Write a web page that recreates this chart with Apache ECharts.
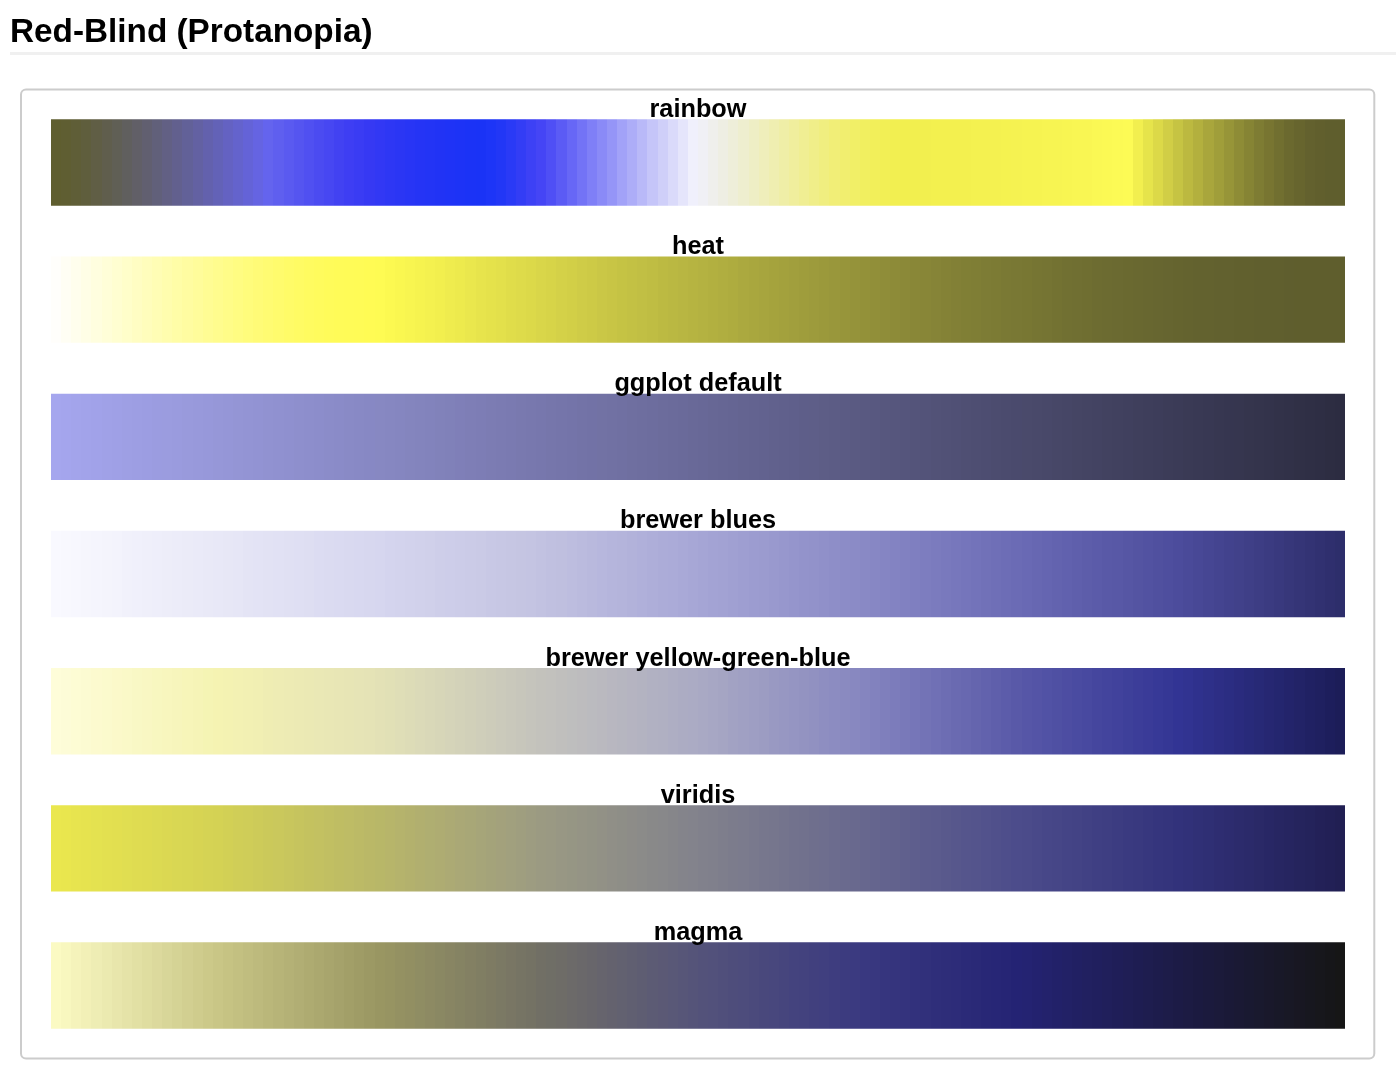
<!DOCTYPE html>
<html><head><meta charset="utf-8">
<script src="https://cdn.jsdelivr.net/npm/echarts@6/dist/echarts.min.js"></script>
<style>html,body{margin:0;padding:0;background:#fff}#c{width:1396px;height:1084px}</style>
</head><body><div id="c"></div>
<script>
const pageTitle = 'Red-Blind (Protanopia)';
const paletteNames = ['rainbow','heat','ggplot default','brewer blues','brewer yellow-green-blue','viridis','magma'];

const rainbowColors = ['5f5e2f','5f5e32','5f5e37','5f5e3d','605e45','605e4d','605f55','605f5e','615f67','615f70','61607a','626084','62608e','626198','6361a2','6361ad','6362b7','6462c2','6463cc','6463d7','6564e2','6464ee','5f5fef','5a5af0','5555f0','5050f1','4b4bf1','4747f2','4242f2','3e3ef3','3a3cf3','3639f3','3238f4','2e37f4','2b36f4','2835f5','2534f5','2334f5','2133f5','1f33f6','1d33f6','1b33f6','1a33f6','1d35f7','2237f6','2a3af6','333df5','3d41f5','4545f5','4f4ff5','5b5bf5','6767f6','7373f6','7f7ff7','8a8af7','9595f7','a2a2f8','adadf8','b9b9f8','c5c5f9','cfcff9','dadafa','e5e5fb','f0f0fc','f0f0f5','efefec','eeeee3','eeeed9','eeeecf','eeeec5','efeebb','efeeb1','efeea7','f0ee9d','f0ee93','f0ee89','f0ee80','f1ee77','f1ee6f','f1ef67','f1ef60','f2ef5a','f2ef55','f2ef51','f2ef4f','f2ef4f','f2ef4f','f3f04f','f3f04f','f3f04f','f3f04f','f4f150','f4f150','f4f150','f5f250','f5f251','f6f351','f6f351','f7f452','f7f452','f8f552','f9f653','f9f653','faf854','fbf954','fcfa55','fdfb55','f2ef4f','e6e44b','dcd948','d1ce46','c6c443','bcb940','b3b03e','a9a63c','a09e3a','979538','8e8c36','868434','7e7c33','787531','716f30','6b692f','67652e','63612e','615f2d','5f5e2d','5f5e2d'];

const heatColors = ['fffefb','fffef4','fffeed','fffee6','fffedf','fffed8','fffed1','fffeca','fffdc3','fffdbc','fffdb5','fffdae','fffda7','fffca1','fffc9b','fffc94','fffc8e','fffc88','fffc82','fffc7c','fffb77','fffb72','fffb6d','fffb68','fffb64','fffb60','fffb5d','fffb5a','fffb58','fffb57','fffb56','fffb54','fefb53','fcf951','faf750','f8f550','f6f34f','f4f14f','f2ef4e','efec4e','edea4d','eae74d','e7e44c','e5e24b','e3e04b','e0dd4a','dedb4a','dcd949','d9d649','d7d448','d4d148','d2cf47','cfcc47','cdca46','cac746','c8c545','c5c344','c3c144','c1bf44','bfbd43','bcba42','bab842','b8b642','b6b441','b4b241','b2b040','b0ae40','aeac3f','aba93f','a9a73e','a7a53e','a5a33d','a3a13d','a19f3d','9f9d3c','9d9b3c','9b993b','99973b','97953a','95933a','939139','918f39','8f8d39','8d8b38','8b8938','898737','888637','868437','848236','828036','807f35','7f7e35','7d7c35','7c7b34','7a7934','797834','787733','767533','757433','737232','717032','706f32','6f6e31','6d6c31','6c6b31','6b6a31','6a6930','696830','686730','676630','666530','65642f','64632f','63622f','63622f','62612f','62612f','61602e','61602e','605f2e','605f2e','605f2e','5f5e2e','5f5e2d','5f5e2d','5f5e2d','5f5e2d','5f5e2d'];

const ggplotColors = [[165,166,238],[164,165,237],[163,164,235],[162,163,234],[161,162,233],[160,161,231],[159,160,230],[158,159,228],[157,158,227],[156,157,226],[155,156,224],[155,156,223],[154,155,222],[153,154,220],[152,153,219],[151,152,218],[150,151,216],[149,150,215],[148,149,213],[147,148,212],[146,147,211],[145,146,209],[144,145,208],[143,144,207],[142,143,205],[141,142,204],[140,141,203],[139,140,201],[138,139,200],[137,138,198],[136,137,197],[135,136,196],[135,136,194],[134,135,193],[133,134,192],[132,133,190],[131,132,189],[130,131,188],[129,130,186],[128,129,185],[127,127,184],[126,126,182],[125,125,181],[124,124,179],[123,123,178],[122,122,177],[121,121,175],[120,120,174],[119,119,173],[118,118,171],[117,117,170],[116,116,169],[115,115,167],[114,114,166],[114,114,164],[113,113,163],[112,112,162],[111,111,160],[110,110,159],[109,109,158],[108,108,156],[107,107,155],[106,106,154],[105,105,152],[104,104,151],[103,103,149],[102,102,148],[101,101,147],[100,100,145],[99,99,144],[98,98,143],[97,97,141],[96,96,140],[95,95,139],[94,94,137],[94,94,136],[93,93,134],[92,92,133],[91,91,132],[90,90,130],[89,89,129],[88,88,128],[87,87,126],[86,86,125],[85,85,124],[84,84,122],[83,83,121],[82,82,119],[81,81,118],[80,80,117],[79,79,115],[78,78,114],[77,77,113],[76,76,111],[75,75,110],[74,74,109],[74,74,107],[73,73,106],[72,72,105],[71,71,103],[70,70,102],[69,69,100],[68,68,99],[67,67,98],[66,66,96],[65,65,95],[64,64,94],[63,63,92],[62,62,91],[61,61,90],[60,60,88],[59,59,87],[58,58,85],[57,57,84],[56,56,83],[55,55,81],[54,54,80],[54,54,79],[53,53,77],[52,52,76],[51,51,75],[50,50,73],[49,49,72],[48,48,70],[47,47,69],[46,46,68],[45,45,66],[44,44,65]];

const bluesColors = [[249,249,255],[248,248,254],[247,247,254],[246,246,253],[245,245,253],[244,244,252],[243,243,252],[241,241,251],[240,240,251],[239,239,250],[238,238,250],[237,237,249],[236,236,249],[235,235,248],[234,234,248],[233,233,247],[232,232,247],[231,231,246],[230,230,246],[228,228,245],[227,227,245],[226,226,244],[225,225,244],[224,224,243],[223,223,243],[222,222,242],[220,220,242],[219,219,241],[218,218,241],[217,217,240],[216,216,240],[215,215,239],[214,214,239],[212,212,238],[211,211,237],[210,210,236],[209,209,235],[208,208,234],[206,206,233],[205,205,233],[204,204,232],[203,203,231],[202,202,230],[200,200,229],[199,199,228],[198,198,227],[197,197,226],[196,196,226],[194,194,225],[192,192,224],[191,191,223],[189,189,223],[187,187,222],[185,185,221],[183,183,221],[181,181,220],[180,180,219],[178,178,218],[176,176,218],[174,174,217],[172,172,216],[171,171,216],[169,169,215],[167,167,214],[165,165,213],[163,163,212],[162,162,211],[160,160,210],[158,158,209],[156,156,208],[155,155,207],[153,153,206],[151,151,205],[149,149,204],[147,147,203],[146,146,202],[144,144,201],[142,142,200],[140,140,199],[139,139,198],[137,137,197],[135,135,196],[133,133,195],[131,131,194],[129,129,193],[127,127,192],[125,125,191],[123,123,190],[121,121,189],[119,119,188],[117,117,187],[115,115,186],[113,113,184],[111,111,183],[109,109,182],[107,107,181],[105,105,180],[103,103,178],[101,101,177],[99,99,175],[97,97,174],[95,95,172],[93,93,170],[91,91,169],[89,89,167],[88,88,166],[86,86,164],[84,84,162],[82,82,161],[80,80,159],[78,78,158],[76,76,156],[74,74,153],[72,72,150],[70,70,147],[68,68,144],[66,66,141],[65,65,138],[63,63,135],[61,61,132],[59,59,129],[57,57,126],[55,55,122],[53,53,119],[51,51,116],[49,49,113],[47,47,110],[45,46,107]];

const ylgnbuColors = [[254,253,217],[253,252,215],[253,252,212],[252,251,210],[252,250,207],[251,250,205],[251,249,202],[250,249,200],[249,248,197],[249,247,195],[248,247,192],[248,246,190],[247,245,188],[247,245,185],[246,244,183],[245,244,180],[245,243,178],[244,242,178],[243,241,179],[242,240,179],[241,239,179],[239,237,179],[238,236,180],[237,235,180],[236,234,180],[235,233,180],[234,232,181],[233,231,181],[232,230,181],[231,229,181],[230,228,182],[229,227,182],[227,225,182],[225,224,182],[223,222,183],[221,220,183],[219,218,184],[217,216,184],[215,214,184],[213,212,185],[211,210,185],[209,208,185],[207,206,186],[205,204,186],[203,202,187],[201,200,187],[199,198,187],[197,196,188],[195,194,188],[194,193,189],[192,191,189],[190,190,190],[189,188,190],[187,187,191],[186,185,191],[184,183,192],[182,182,192],[181,180,193],[179,179,193],[177,177,194],[176,176,194],[174,174,195],[172,172,195],[171,171,196],[169,169,196],[167,167,196],[165,165,195],[162,162,195],[160,160,195],[158,158,195],[156,156,194],[153,153,194],[151,151,194],[149,149,194],[147,147,193],[145,145,193],[142,142,193],[140,140,193],[138,138,192],[136,136,192],[133,133,191],[130,130,190],[127,127,188],[124,124,187],[121,121,185],[118,118,184],[115,115,182],[112,112,181],[109,109,179],[106,106,177],[104,104,176],[101,101,174],[98,98,173],[95,95,171],[92,92,170],[89,89,168],[86,86,167],[84,84,166],[81,82,165],[79,80,163],[77,77,162],[74,75,161],[72,73,160],[69,70,158],[67,68,157],[65,66,156],[62,64,154],[60,61,153],[58,59,152],[55,57,151],[53,55,149],[50,52,148],[49,51,145],[47,49,141],[46,48,137],[45,46,133],[43,45,130],[42,43,126],[40,42,122],[39,41,118],[38,39,114],[36,38,111],[35,36,107],[34,35,103],[32,33,99],[31,32,96],[29,30,92],[28,29,88]];

const viridisColors = [[234,231,78],[233,230,78],[231,228,79],[230,227,79],[228,226,80],[227,224,80],[226,223,80],[224,222,81],[223,220,81],[222,219,81],[220,218,82],[219,216,82],[217,215,83],[216,214,83],[215,212,83],[213,211,84],[212,210,84],[210,208,85],[208,206,87],[207,205,88],[205,203,89],[203,201,90],[202,200,92],[200,198,93],[198,196,94],[196,194,95],[195,193,97],[193,191,98],[191,189,99],[190,188,101],[188,186,102],[186,184,103],[184,183,104],[183,181,106],[181,179,108],[179,177,109],[177,175,111],[175,174,113],[174,172,114],[172,170,116],[170,168,118],[168,167,119],[166,165,121],[164,163,122],[163,161,124],[161,160,126],[159,158,127],[157,156,129],[155,154,130],[154,153,131],[152,151,132],[150,150,132],[149,148,133],[147,147,133],[146,145,134],[144,143,135],[142,142,135],[141,140,136],[139,139,137],[137,137,137],[136,136,138],[134,134,138],[132,132,139],[131,131,140],[129,129,140],[128,128,140],[126,126,140],[124,124,140],[123,123,141],[121,121,141],[119,119,141],[118,118,141],[116,116,141],[114,114,141],[113,113,141],[111,111,141],[110,110,142],[108,108,142],[106,106,142],[105,105,142],[103,103,142],[101,101,142],[99,99,142],[98,98,141],[96,96,141],[94,94,141],[92,92,141],[91,91,141],[89,89,140],[87,87,140],[85,85,140],[84,84,140],[82,82,140],[80,80,139],[78,78,139],[76,76,139],[75,75,138],[73,73,137],[71,71,136],[70,70,135],[68,68,134],[67,67,133],[65,65,132],[63,63,131],[62,62,130],[60,60,129],[58,58,128],[57,57,127],[55,55,126],[53,53,125],[52,52,124],[50,50,123],[49,49,121],[48,48,118],[47,47,116],[46,45,113],[45,44,111],[44,43,108],[43,42,106],[42,41,103],[40,39,101],[39,38,98],[38,37,96],[37,36,93],[36,35,91],[35,33,88],[34,32,86],[33,31,83]];

const magmaColors = [[251,250,195],[248,247,191],[245,243,187],[242,240,183],[238,237,180],[235,234,176],[232,230,172],[229,227,168],[226,224,164],[223,221,160],[220,217,157],[216,214,153],[213,211,149],[210,207,145],[207,204,141],[204,201,137],[201,198,134],[198,195,131],[195,192,129],[192,189,127],[189,186,125],[186,183,122],[183,180,120],[180,177,118],[177,174,116],[174,171,113],[171,168,111],[168,165,109],[165,162,107],[162,159,104],[159,156,102],[156,153,100],[153,150,98],[151,148,98],[148,145,98],[146,143,98],[143,141,99],[141,138,99],[138,136,99],[136,133,99],[133,131,99],[131,128,99],[128,126,99],[126,123,99],[123,121,100],[121,118,100],[118,116,100],[116,114,100],[113,111,101],[111,110,102],[110,108,103],[108,106,105],[106,104,106],[104,102,107],[102,100,109],[100,98,110],[98,97,112],[96,95,113],[94,93,114],[92,91,116],[91,89,117],[89,88,119],[87,86,120],[85,84,121],[83,82,122],[82,81,123],[80,79,123],[78,77,123],[77,76,124],[75,74,124],[73,72,124],[72,71,125],[70,69,125],[68,67,126],[67,66,126],[65,64,126],[64,63,127],[62,61,127],[60,59,127],[59,58,128],[57,56,128],[56,55,127],[54,53,126],[53,52,125],[52,51,125],[50,49,124],[49,48,123],[47,46,122],[46,45,121],[45,44,121],[43,42,120],[42,41,119],[40,39,118],[39,38,118],[38,37,117],[36,35,116],[36,35,114],[35,34,111],[35,34,108],[34,33,105],[34,33,102],[33,32,99],[33,32,96],[32,31,94],[32,31,91],[31,30,88],[31,30,85],[30,29,82],[30,29,79],[29,28,76],[29,28,73],[28,27,70],[28,27,67],[27,26,64],[27,26,61],[27,26,58],[26,25,55],[26,25,52],[25,25,49],[25,25,46],[25,24,43],[24,24,40],[24,24,37],[24,23,34],[23,23,31],[23,23,28],[22,22,25],[22,22,22]];

const palettes = [rainbowColors, heatColors, ggplotColors, bluesColors, ylgnbuColors, viridisColors, magmaColors];

function toCss(c) {
  return Array.isArray(c) ? 'rgb(' + c.join(',') + ')' : '#' + c;
}

const BAR_LEFT = 51, BAR_WIDTH = 1294, BAR_TOP0 = 119.3, ROW_STEP = 137.17, BAR_HEIGHT = 86.4;
const FONT = '"Liberation Sans", Arial, Helvetica, sans-serif';

const grids = [], xAxes = [], yAxes = [], series = [], graphics = [];

graphics.push({
  type: 'text', silent: true,
  style: { x: 10, y: 32.8, text: pageTitle, fill: '#000', font: 'bold 33.3px ' + FONT, verticalAlign: 'middle', align: 'left' }
});
graphics.push({
  type: 'rect', silent: true,
  shape: { x: 10, y: 52, width: 1386, height: 3 },
  style: { fill: '#f0f0f0' }
});
graphics.push({
  type: 'rect', silent: true, z: -10,
  shape: { x: 21, y: 89.5, width: 1353.3, height: 969, r: 5 },
  style: { fill: 'none', stroke: '#cccccc', lineWidth: 2 }
});

function makeRenderer(pal) {
  return function (params, api) {
    const k = api.value(0);
    const topPt = api.coord([k, 1]);
    const basePt = api.coord([k, 0]);
    const bw = api.size([1, 0])[0];
    const x0 = Math.round(topPt[0] - bw / 2);
    const x1 = Math.round(topPt[0] + bw / 2);
    return {
      type: 'rect',
      shape: { x: x0, y: topPt[1], width: x1 - x0, height: basePt[1] - topPt[1] },
      style: { fill: toCss(pal[params.dataIndex]) }
    };
  };
}

palettes.forEach(function (pal, i) {
  const top = BAR_TOP0 + ROW_STEP * i;
  grids.push({ left: BAR_LEFT, top: top, width: BAR_WIDTH, height: BAR_HEIGHT, containLabel: false });
  xAxes.push({ gridIndex: i, type: 'category', data: pal.map(function (_, k) { return k; }), show: false, boundaryGap: true });
  yAxes.push({ gridIndex: i, type: 'value', min: 0, max: 1, show: false });
  series.push({
    type: 'custom', xAxisIndex: i, yAxisIndex: i, silent: true,
    data: pal.map(function (_, k) { return [k, 1]; }),
    renderItem: makeRenderer(pal)
  });
  graphics.push({
    type: 'text', silent: true, z: 100,
    style: { x: BAR_LEFT + BAR_WIDTH / 2, y: top - 9.4, text: paletteNames[i], fill: '#000', font: 'bold 25.3px ' + FONT, align: 'center', verticalAlign: 'middle' }
  });
});

const chart = echarts.init(document.getElementById('c'), null, { renderer: 'canvas', width: 1396, height: 1084 });
chart.setOption({
  backgroundColor: '#ffffff',
  animation: false,
  grid: grids,
  xAxis: xAxes,
  yAxis: yAxes,
  series: series,
  graphic: graphics
});
</script>
</body></html>
